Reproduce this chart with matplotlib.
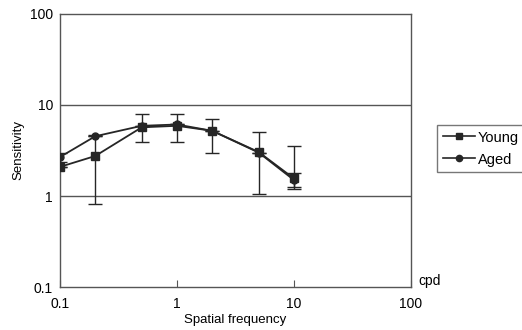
import numpy as np
import matplotlib
matplotlib.use('Agg')
import matplotlib.pyplot as plt
from matplotlib.lines import Line2D
from matplotlib.ticker import FixedLocator, NullLocator, FixedFormatter

plt.rcParams['font.family'] = ['Liberation Sans', 'DejaVu Sans']

# spatial frequency (cpd)
freq = [0.1, 0.2, 0.5, 1, 2, 5, 10]

# young group
young = [2.09, 2.75, 5.68, 5.9, 5.2, 3.04, 1.56]
young_lo = [0.0, 1.93, 1.8, 1.97, 2.25, 2.0, 0.3]
young_hi = [0.0, 1.93, 2.2, 2.0, 1.8, 2.05, 1.94]

# aged group
aged = [2.68, 4.53, 5.9, 6.1, 5.2, 3.0, 1.5]
aged_err = [0.3, 0.0, 0.0, 0.0, 0.0, 0.0, 0.3]

dark = '#262626'

fig = plt.figure(figsize=(5.22, 3.30), dpi=100)
ax = fig.add_axes([0.115, 0.130, 0.672, 0.828])

ax.errorbar(freq, young, yerr=[young_lo, young_hi], color=dark, marker='s',
            markersize=6, lw=1.3, capsize=5, elinewidth=1.0, capthick=1.0,
            zorder=3)
ax.errorbar(freq, aged, yerr=aged_err, color=dark, marker='o',
            markersize=5, lw=1.3, capsize=5, elinewidth=1.0, capthick=1.0,
            zorder=3)

ax.set_xscale('log')
ax.set_yscale('log')
ax.set_xlim(0.1, 100)
ax.set_ylim(0.1, 100)

ax.xaxis.set_major_locator(FixedLocator([0.1, 1, 10, 100]))
ax.xaxis.set_major_formatter(FixedFormatter(['0.1', '1', '10', '100']))
ax.yaxis.set_major_locator(FixedLocator([0.1, 1, 10, 100]))
ax.yaxis.set_major_formatter(FixedFormatter(['0.1', '1', '10', '100']))
ax.xaxis.set_minor_locator(NullLocator())
ax.yaxis.set_minor_locator(NullLocator())
ax.tick_params(axis='x', direction='in', length=5, width=0.8, color='#555555',
               labelsize=10, pad=7)
ax.tick_params(axis='y', direction='in', length=0, labelsize=10, pad=5)

for y in [1, 10]:
    ax.axhline(y, color='#555555', lw=1.0, zorder=1)
for s in ax.spines.values():
    s.set_color('#555555')
    s.set_linewidth(1.0)

ax.set_xlabel('Spatial frequency', fontsize=9.5, labelpad=2)
ax.set_ylabel('Sensitivity', fontsize=9.5, labelpad=4)
fig.text(0.822, 0.128, 'cpd', fontsize=10, ha='center', va='bottom')

handles = [Line2D([], [], color=dark, marker='s', markersize=5, lw=1.2),
           Line2D([], [], color=dark, marker='o', markersize=4.5, lw=1.2)]
leg = fig.legend(handles, ['Young', 'Aged'], loc='upper left',
                 bbox_to_anchor=(0.837, 0.47, 0.2, 0.152), mode='expand',
                 fontsize=10.5, frameon=True, fancybox=False,
                 edgecolor='#555555', handlelength=2.2, borderpad=0.4,
                 labelspacing=0.55, handletextpad=0.2, borderaxespad=0)
leg.get_frame().set_linewidth(1.0)

fig.savefig('out.png', dpi=100)
